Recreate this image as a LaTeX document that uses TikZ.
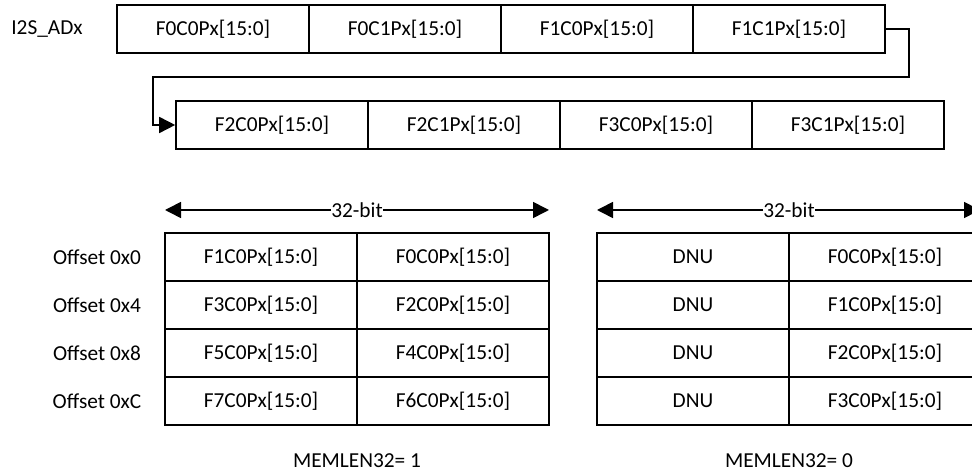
\documentclass[tikz,border=0pt]{standalone}
\usepackage{fontspec}
\setmainfont{Carlito}
\usetikzlibrary{arrows.meta}
\tikzset{
  cell/.style={draw, line width=1.2pt, minimum width=144pt, minimum height=36pt, inner sep=0pt, font=\fontsize{16}{19}\selectfont},
  lbl/.style={inner sep=0pt, font=\fontsize{16}{19}\selectfont},
  conn/.style={line width=1.2pt},
  tip/.style={-{Triangle[length=12pt,width=12pt]}}
}
\begin{document}
\begin{tikzpicture}[x=0.75pt,y=-0.75pt]
\useasboundingbox (0,0) rectangle (972,473);
\clip (0,0) rectangle (972,473);
% top stream
\node[lbl] (ad) at (47,29) {I2S\_ADx};
\node[cell] (t1) at (213,29) {F0C0Px[15:0]};
\node[cell] (t2) at (405,29) {F0C1Px[15:0]};
\node[cell] (t3) at (597,29) {F1C0Px[15:0]};
\node[cell] (t4) at (789,29) {F1C1Px[15:0]};
\node[cell] (s1) at (272,125) {F2C0Px[15:0]};
\node[cell] (s2) at (464,125) {F2C1Px[15:0]};
\node[cell] (s3) at (656,125) {F3C0Px[15:0]};
\node[cell] (s4) at (848,125) {F3C1Px[15:0]};
\coordinate (c1) at (909,77);
\coordinate (c2) at (153,77);
\draw[conn,tip] (t4.east) -| (c1) -- (c2) |- (s1.west);
% left memory table
\node[lbl] (w1) at (357,210) {32-bit};
\coordinate (w1l) at (165,210);
\coordinate (w1r) at (549,210);
\draw[conn,tip] (w1.west) -- (w1l);
\draw[conn,tip] (w1.east) -- (w1r);
\node[lbl] (o0) at (97,257) {Offset 0x0};
\node[lbl] (o4) at (97,305) {Offset 0x4};
\node[lbl] (o8) at (97,353) {Offset 0x8};
\node[lbl] (oc) at (97,401) {Offset 0xC};
\node[cell] (a11) at (261,257) {F1C0Px[15:0]};
\node[cell] (a12) at (453,257) {F0C0Px[15:0]};
\node[cell] (a21) at (261,305) {F3C0Px[15:0]};
\node[cell] (a22) at (453,305) {F2C0Px[15:0]};
\node[cell] (a31) at (261,353) {F5C0Px[15:0]};
\node[cell] (a32) at (453,353) {F4C0Px[15:0]};
\node[cell] (a41) at (261,401) {F7C0Px[15:0]};
\node[cell] (a42) at (453,401) {F6C0Px[15:0]};
\node[lbl] (m1) at (357,461) {MEMLEN32= 1};
% right memory table
\node[lbl] (w2) at (789,210) {32-bit};
\coordinate (w2l) at (597,210);
\coordinate (w2r) at (980,210);
\draw[conn,tip] (w2.west) -- (w2l);
\draw[conn,tip] (w2.east) -- (w2r);
\node[cell] (b11) at (693,257) {DNU};
\node[cell] (b12) at (885,257) {F0C0Px[15:0]};
\node[cell] (b21) at (693,305) {DNU};
\node[cell] (b22) at (885,305) {F1C0Px[15:0]};
\node[cell] (b31) at (693,353) {DNU};
\node[cell] (b32) at (885,353) {F2C0Px[15:0]};
\node[cell] (b41) at (693,401) {DNU};
\node[cell] (b42) at (885,401) {F3C0Px[15:0]};
\node[lbl] (m2) at (789,461) {MEMLEN32= 0};
\end{tikzpicture}
\end{document}
